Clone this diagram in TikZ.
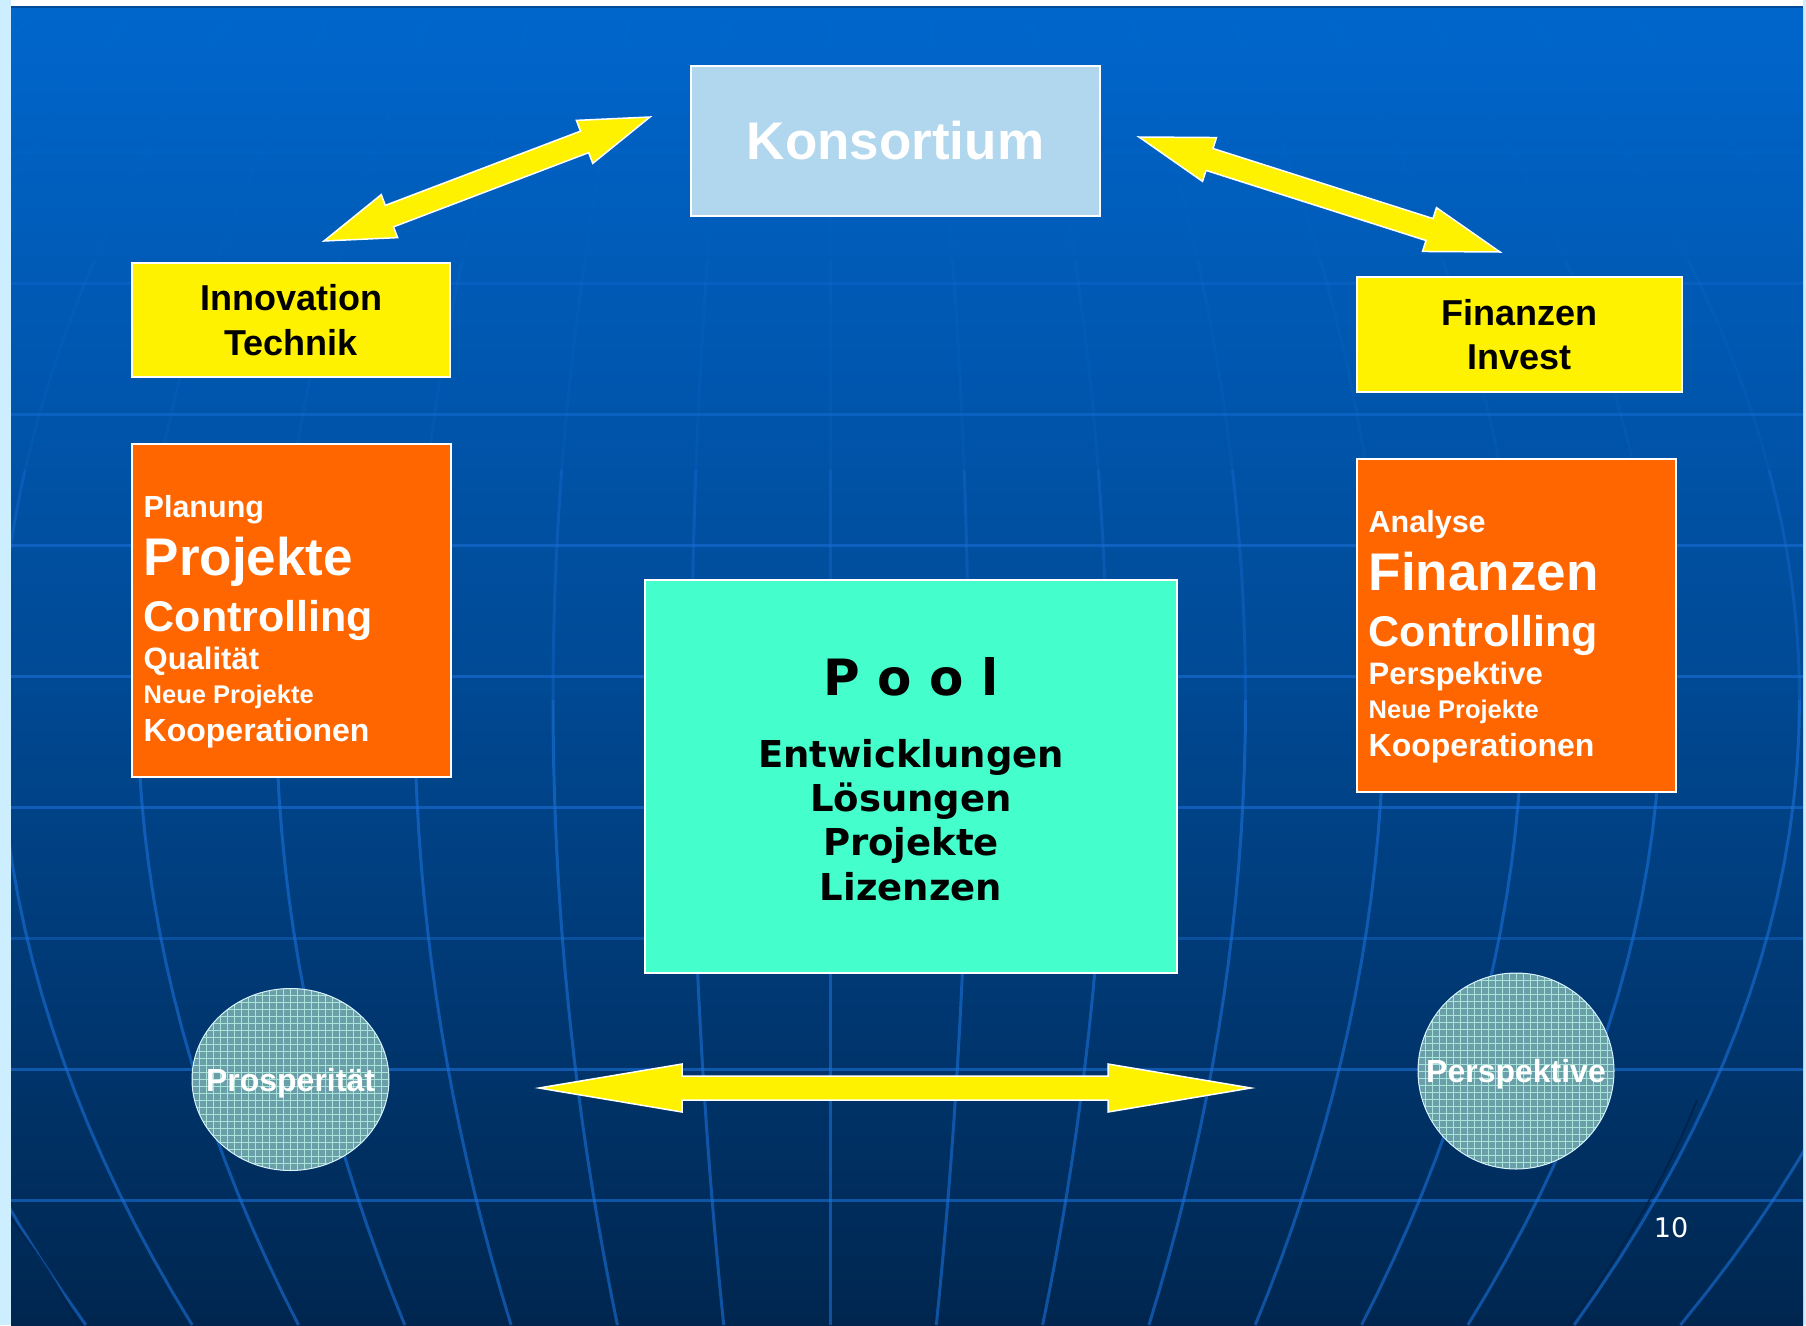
\documentclass[tikz,border=0pt]{standalone}
\usepackage{fontspec}
\setmainfont{Liberation Sans}
\newfontfamily\verdana{DejaVu Sans}
\usetikzlibrary{calc,shapes.geometric}

\definecolor{bgtop}{HTML}{0066CC}
\definecolor{bgmid}{HTML}{004A96}
\definecolor{bgbot}{HTML}{00264F}
\definecolor{randhell}{HTML}{CCEEFF}
\definecolor{randdunkel}{HTML}{004A98}
\definecolor{konsblue}{HTML}{B0D7EE}
\definecolor{orangefill}{HTML}{FF6600}
\definecolor{poolgreen}{HTML}{44FFCC}
\definecolor{globefill}{HTML}{6A9EA8}
\definecolor{meshcyan}{HTML}{A8E4D8}
\definecolor{gridblue}{HTML}{1A70D8}
\definecolor{limbdark}{HTML}{00214A}

\tikzset{
  boxline/.style={draw=white, line width=1.5pt, inner sep=0pt},
  konsbox/.style={boxline, fill=konsblue, minimum width=409pt, minimum height=150pt,
    text=white, font=\bfseries\fontsize{53pt}{60pt}\selectfont},
  gelbbox/.style={boxline, fill=yellow, align=center, font=\bfseries\fontsize{36pt}{44.5pt}\selectfont},
  orangebox/.style={boxline, fill=orangefill, minimum width=319pt, minimum height=333pt},
  poolbox/.style={boxline, fill=poolgreen, minimum width=532pt, minimum height=393pt},
  meshline/.style={draw=meshcyan, line width=0.9pt, step=7pt},
  globe/.style={ellipse, draw=white!85!cyan, line width=1pt, fill=globefill, inner sep=0pt,
    path picture={\draw[meshline] (path picture bounding box.south west) grid (path picture bounding box.north east);}},
  globetext/.style={text=white, inner sep=0pt, text depth=0pt, font=\bfseries\fontsize{32pt}{36pt}\selectfont},
  zeile/.style={anchor=base west, text=white, inner sep=0pt, font=\bfseries\fontsize{#1}{#1}\selectfont},
  poolzeile/.style={anchor=base, inner sep=0pt, font=\verdana\bfseries\fontsize{#1}{#1}\selectfont},
  blockarrow/.style={fill=yellow, draw=white, line width=1.5pt, line join=miter},
  gridline/.style={draw=gridblue, line width=3pt},
  limbline/.style={draw=limbdark, line width=2pt, opacity=0.8},
}

% #1 from, #2 to, #3 shaft half width, #4 head half width, #5 head length
\newcommand{\doppelpfeil}[5]{%
  \path[blockarrow] (#1)
    -- ($(#1)!#5!(#2)!#4!90:(#2)$) -- ($(#1)!#5!(#2)!#3!90:(#2)$)
    -- ($(#2)!#5!(#1)!#3!-90:(#1)$) -- ($(#2)!#5!(#1)!#4!-90:(#1)$)
    -- (#2)
    -- ($(#2)!#5!(#1)!#4!90:(#1)$) -- ($(#2)!#5!(#1)!#3!90:(#1)$)
    -- ($(#1)!#5!(#2)!#3!-90:(#2)$) -- ($(#1)!#5!(#2)!#4!-90:(#2)$)
    -- cycle;}

\begin{document}
\begin{tikzpicture}[x=1pt,y=-1pt]
   \useasboundingbox (0,0) rectangle (1806,1325);
   % slide background
   \fill[randhell] (0,0) rectangle (1806,1325);
   \fill[white] (11,0) rectangle (1803,6);
   \fill[randdunkel] (11,6) rectangle (1803,8);
   \shade[top color=bgtop, bottom color=bgbot, middle color=bgmid] (11,8) rectangle (1803,1325);

   % globe grid
   \begin{scope}
     \clip (11,8) rectangle (1803,1325);
     \foreach \y/\op in {152/0.1, 283/0.3, 414/0.45, 545/0.55, 676/0.6, 807/0.6, 938/0.4, 1069/0.6, 1200/0.6}
       \draw[gridline, opacity=\op] (11,\y) -- (1803,\y);
     \foreach \k in {-8,...,8}
       \foreach \ya/\yb/\op in {8/260/0.06, 260/470/0.15, 470/700/0.35, 700/1325/0.6}
         \draw[gridline, opacity=\op] plot[domain=\ya:\yb, samples=20, variable=\t]
           ({830+138.5*\k*(1-0.00595*((\t-700)/100)^2)}, \t);
     \draw[limbline] (11,1218) .. controls (45,1265) .. (80,1325);
     \draw[limbline] (1697,1100) .. controls (1665,1180) and (1620,1255) .. (1570,1325);
   \end{scope}

   \node[konsbox] (kons) at (895.5,141) {Konsortium};
   \node[gelbbox, minimum width=318pt, minimum height=114pt] (innov) at (291,320) {Innovation\\Technik};
   \node[gelbbox, minimum width=325pt, minimum height=115pt] (finanz) at (1519.5,334.5) {Finanzen\\Invest};
   \node[orangebox] (planbox) at (291.5,610.5) {};
   \node[orangebox] (analysebox) at (1516.5,625.5) {};
   \node[poolbox] (pool) at (911,776.5) {};
   \node[globe, minimum width=197pt, minimum height=182pt] (prosp) at (290.5,1079.5) {};
   \node[globe, minimum width=196pt, minimum height=196pt] (persp) at (1516,1071) {};

   \draw (143.5,517) node[zeile=30.5pt] (planung) {Planung};
   \draw (143.5,575) node[zeile=53pt] (projekte) {Projekte};
   \draw (143.5,631) node[zeile=43pt] (controlling) {Controlling};
   \draw (143.5,669) node[zeile=31pt] (qualitaet) {Qualität};
   \draw (143.5,703) node[zeile=25.5pt] (neueprojekte) {Neue Projekte};
   \draw (143.5,741) node[zeile=32pt] (kooperationen) {Kooperationen};

   \draw (1368.5,532) node[zeile=30.5pt] (analyse) {Analyse};
   \draw (1368.5,590) node[zeile=53pt] (finanzen) {Finanzen};
   \draw (1368.5,646) node[zeile=43pt] (controlling2) {Controlling};
   \draw (1368.5,684) node[zeile=31pt] (perspektive) {Perspektive};
   \draw (1368.5,718) node[zeile=25.5pt] (neueprojekte2) {Neue Projekte};
   \draw (1368.5,756) node[zeile=32pt] (kooperationen2) {Kooperationen};

   \draw (911,695) node[poolzeile=50pt] (pooltitel) {P o o l};
   \draw (911,767) node[poolzeile=37pt] (entwicklungen) {Entwicklungen};
   \draw (911,811) node[poolzeile=37pt] (loesungen) {Lösungen};
   \draw (911,855) node[poolzeile=37pt] (projekte2) {Projekte};
   \draw (911,900) node[poolzeile=37pt] (lizenzen) {Lizenzen};

   \draw (prosp) node[globetext] (prosptext) {Prosperität};
   \draw (persp) node[globetext] (persptext) {Perspektive};

   \coordinate (innovpfeil) at (324,241);
   \coordinate (konspfeilw) at (650,117);
   \coordinate (konspfeilo) at (1139,137);
   \coordinate (finanzpfeil) at (1500,252);
   \coordinate (prosppfeil) at (539,1088);
   \coordinate (persppfeil) at (1251,1088);
   \doppelpfeil{innovpfeil}{konspfeilw}{11.5pt}{23pt}{70pt}
   \doppelpfeil{konspfeilo}{finanzpfeil}{11.5pt}{23pt}{74pt}
   \doppelpfeil{prosppfeil}{persppfeil}{12pt}{24pt}{143pt}

   \draw (1671,1237) node[anchor=base, inner sep=0pt, text=white, font=\verdana\fontsize{27pt}{30pt}\selectfont] (seite) {10};
\end{tikzpicture}
\end{document}
